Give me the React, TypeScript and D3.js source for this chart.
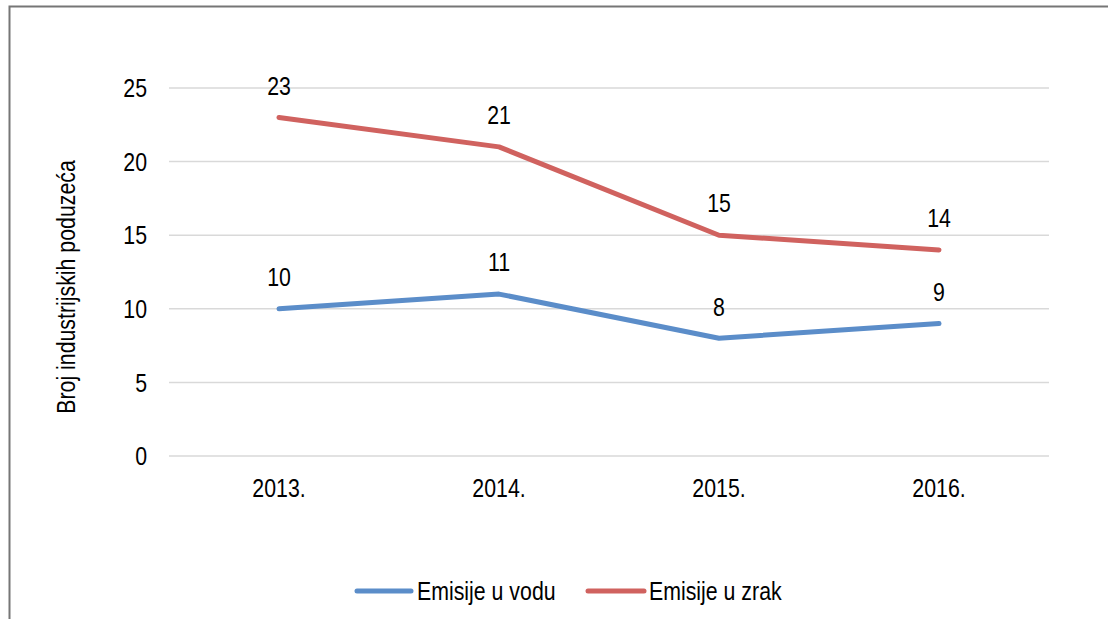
import React from "react";
import * as d3 from "d3";

const categories = ["2013.", "2014.", "2015.", "2016."];
const seriesNames = ["Emisije u vodu", "Emisije u zrak"];
const vodu = [10, 11, 8, 9];
const zrak = [23, 21, 15, 14];
const yTicks = [0, 5, 10, 15, 20, 25];
const colors = ["#5B8DC9", "#D0625F"];
const yTitle = "Broj industrijskih poduzeća";

const FONT = "'Liberation Sans', Arial, sans-serif";
const FS = 26;
const SX = 0.82;

function T({ x, y, anchor = "middle", rotate = 0, children }: any) {
  return (
    <text
      transform={`translate(${x},${y}) rotate(${rotate}) scale(${SX},1)`}
      textAnchor={anchor}
      dominantBaseline="central"
      fontSize={FS}
      fill="#000"
    >
      {children}
    </text>
  );
}

export default function App() {
  const W = 1108, H = 619;
  const x = d3.scaleBand<string>().domain(categories).range([169, 1049]);
  const y = d3.scaleLinear().domain([0, 25]).range([456, 88]);
  const cx = (c: string) => (x(c) as number) + x.bandwidth() / 2;
  const line = d3.line<number>().x((_, i) => cx(categories[i])).y((v) => y(v));
  const series = [vodu, zrak];
  const legend = [
    { x1: 357, x2: 411, tx: 417 },
    { x1: 588, x2: 644, tx: 649 },
  ];
  return (
    <div style={{ position: "absolute", left: 0, top: 0 }}>
      <svg width={W} height={H} style={{ display: "block", fontFamily: FONT }}>
        <rect x={0} y={0} width={W} height={H} fill="#fff" />
        <rect x={9.5} y={6.5} width={1300} height={1000} fill="none" stroke="#767676" strokeWidth={2} />
        {yTicks.map((t) => (
          <g key={t}>
            <line x1={169} x2={1049} y1={y(t)} y2={y(t)} stroke="#d9d9d9" strokeWidth={1.5} />
            <T x={147} y={y(t)} anchor="end">{t}</T>
          </g>
        ))}
        {categories.map((c) => (
          <T key={c} x={cx(c)} y={488}>{c}</T>
        ))}
        <T x={66} y={287} rotate={-90}>{yTitle}</T>
        {series.map((s, si) => (
          <g key={si}>
            <path d={line(s) || ""} fill="none" stroke={colors[si]} strokeWidth={5} strokeLinecap="round" strokeLinejoin="round" />
            {s.map((v, i) => (
              <T key={i} x={cx(categories[i])} y={y(v) - 32}>{v}</T>
            ))}
          </g>
        ))}
        {seriesNames.map((n, i) => (
          <g key={n}>
            <line x1={legend[i].x1} x2={legend[i].x2} y1={591} y2={591} stroke={colors[i]} strokeWidth={5} strokeLinecap="round" />
            <T x={legend[i].tx} y={591} anchor="start">{n}</T>
          </g>
        ))}
      </svg>
    </div>
  );
}
